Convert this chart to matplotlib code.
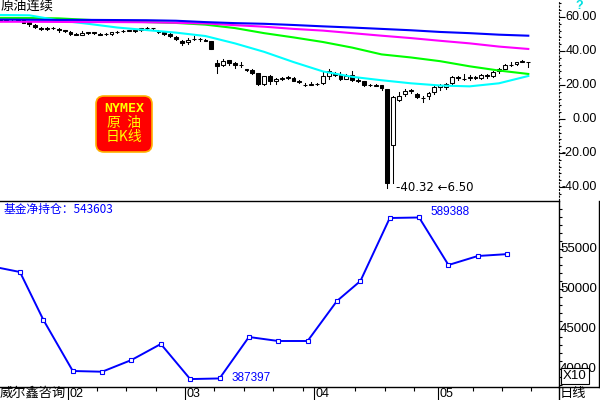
import numpy as np
import matplotlib
matplotlib.use('Agg')
import matplotlib.pyplot as plt
import matplotlib.transforms as mtransforms
from matplotlib.patches import Rectangle, FancyBboxPatch
from matplotlib.lines import Line2D

plt.rcParams['font.family'] = ['Liberation Sans', 'Noto Sans CJK SC', 'DejaVu Sans']
CJK = ['Noto Sans CJK SC', 'DejaVu Sans']

# daily bars, one per trading day (index 0 = 01-15 ... index 90 = 05-22)
opens = [58.24, 57.87, 58.56, 58.67, 58.32, 56.77, 55.52, 53.82, 52.93, 53.64, 53.22, 52.08,
         51.37, 50.11, 49.65, 50.79, 50.89, 50.08, 49.80, 50.00, 50.98, 51.52, 52.05, 52.32,
         52.12, 53.45, 53.70, 51.84, 51.45, 49.93, 48.51, 46.15,
         45.26, 47.20, 47.29, 46.66, 45.61, 32.87, 31.70, 34.54, 33.04, 31.92, 29.25, 29.01,
         27.03, 20.61, 25.33, 22.49, 23.53, 24.06, 24.35, 22.41, 20.15, 20.19,
         20.79, 20.93, 25.03, 26.59, 26.66, 23.81, 25.75, 23.22, 22.21, 19.99, 19.57, 19.83,
         17.73, -15.30, 11.36, 14.50, 16.34, 14.98, 12.48, 13.54, 15.96,
         18.77, 19.05, 21.17, 24.46, 23.55, 24.16, 24.48, 24.13, 25.95, 25.31, 27.98, 29.67,
         31.84, 32.11, 33.63, 33.32]
highs = [58.50, 58.74, 59.09, 59.71, 58.45, 56.86, 55.62, 53.99, 54.11, 54.12, 53.34, 52.49,
         51.73, 50.82, 51.56, 51.43, 51.01, 50.47, 50.76, 51.41, 51.67, 52.20, 52.50, 52.65,
         53.53, 54.09, 53.74, 52.07, 51.92, 50.32, 48.77, 46.26,
         47.43, 48.66, 47.81, 47.28, 45.90, 34.88, 35.03, 34.96, 33.28, 33.33, 29.59, 29.43,
         27.12, 25.37, 26.10, 24.26, 24.68, 25.24, 24.48, 22.91, 21.08, 21.64,
         21.06, 27.39, 29.13, 27.74, 27.71, 26.44, 28.36, 24.74, 22.31, 20.47, 20.42, 20.00,
         17.85, 13.60, 15.70, 17.39, 17.48, 15.16, 13.48, 16.16, 19.29,
         20.48, 21.20, 25.00, 25.06, 26.74, 25.79, 25.52, 26.25, 26.25, 27.95, 29.85, 32.62,
         33.32, 33.38, 34.66, 33.51]
lows = [57.36, 57.56, 58.29, 57.77, 56.46, 54.77, 53.51, 52.13, 52.53, 52.83, 50.99, 51.28,
        49.61, 49.31, 49.46, 50.29, 49.99, 49.31, 49.44, 49.65, 50.39, 51.19, 51.90, 51.21,
        51.96, 52.84, 52.71, 50.66, 49.70, 48.40, 46.50, 43.32,
        44.23, 46.32, 45.97, 45.66, 41.05, 27.34, 31.07, 32.05, 30.02, 30.69, 28.03, 26.39,
        20.06, 20.09, 20.80, 20.52, 22.97, 23.33, 22.20, 21.05, 19.27, 19.73,
        19.90, 20.41, 23.46, 25.28, 23.14, 23.48, 22.06, 21.81, 19.64, 19.20, 19.20, 17.31,
        -40.32, -37.50, 10.50, 13.65, 15.26, 12.06, 10.07, 11.88, 14.82,
        17.31, 17.64, 20.80, 22.65, 22.94, 23.08, 23.45, 23.75, 24.00, 24.78, 27.25, 29.57,
        30.90, 31.48, 33.28, 30.47]
closes = [57.81, 58.52, 58.54, 58.38, 56.74, 55.59, 54.19, 53.14, 53.48, 53.33, 52.14, 51.56,
          50.11, 49.61, 50.75, 50.95, 50.32, 49.57, 49.94, 51.17, 51.42, 52.05, 52.25, 52.05,
          53.29, 53.78, 53.38, 51.43, 49.90, 48.73, 47.09, 44.76,
          46.75, 47.18, 46.78, 45.90, 41.28, 31.13, 34.36, 32.98, 31.50, 31.73, 28.70, 26.95,
          20.37, 25.22, 22.43, 23.36, 24.01, 24.49, 22.60, 21.51, 20.09, 20.48,
          20.31, 25.32, 28.34, 26.08, 23.63, 25.09, 22.76, 22.41, 20.11, 19.87, 19.87, 18.27,
          -37.63, 13.00, 13.78, 16.50, 16.94, 12.78, 12.34, 15.06, 18.84,
          19.78, 20.39, 24.56, 23.99, 23.55, 24.74, 24.14, 25.78, 25.29, 27.56, 29.43, 31.82,
          31.96, 33.49, 33.92, 33.25]

# moving averages, read every 5th bar
ma_idx = [0, 5, 10, 15, 20, 25, 30, 35, 40, 45, 50, 55, 60, 65, 70, 75, 80, 85, 90]
ma_blue = [58.5, 58.4, 58.3, 58.3, 58.2, 58.1, 57.8, 57.0, 56.4, 56.0, 55.3, 54.5, 53.8,
           53.0, 52.2, 51.2, 50.5, 49.6, 49.0]
ma_magenta = [57.2, 57.2, 57.1, 57.0, 57.0, 56.9, 56.6, 56.2, 55.2, 54.3, 53.0, 52.0, 50.5,
              49.0, 47.6, 46.0, 44.5, 42.6, 41.2]
ma_green = [59.5, 59.4, 59.2, 58.3, 57.5, 57.0, 56.5, 55.5, 53.5, 50.5, 48.0, 45.3, 42.0,
            38.0, 36.2, 34.0, 31.0, 28.5, 26.5]
ma_cyan = [61.2, 61.0, 58.0, 56.0, 53.8, 52.3, 50.8, 48.8, 44.5, 39.5, 33.5, 28.0, 24.8,
           22.8, 21.0, 19.7, 19.2, 21.0, 25.3]

price_ticks = [60, 40, 20, 0, -20, -40]
low_bar, low_price, low_note = 66, -40.32, 6.50

# weekly fund net position (bar index of report day)
fund_idx = [-1, 4, 8, 13, 18, 23, 28, 33, 38, 43, 48, 53, 58, 62, 67, 72, 77, 82, 87]
fund_net = [528600, 521250, 461250, 397500, 396600, 411250, 431250, 387397, 388200,
            440000, 435000, 435000, 485000, 510000, 588750, 589388, 530000, 541250, 543603]
net_ticks = [40000, 45000, 50000, 55000]

month_labels = ['02', '03', '04', '05']
month_starts = [12, 32, 54, 75]
week_starts = [17, 22, 27, 37, 42, 47, 52, 61, 66, 71, 81, 86, 91]

W, H = 600, 400
def fx(px):
    return px / W
def fy(py):
    return 1 - py / H

fig = plt.figure(figsize=(6, 4), dpi=100)
fig.patch.set_facecolor('white')
x_right = 559 / 5.87

ax1 = fig.add_axes([0, fy(200), fx(559), 200 / H])
ax2 = fig.add_axes([0, fy(387), fx(559), 186 / H])

# --- price panel ---
for i, (o, h, l, c) in enumerate(zip(opens, highs, lows, closes)):
    ax1.plot([i, i], [l, h], color='black', lw=0.75, zorder=2)
    up = c >= o
    ax1.add_patch(Rectangle((i - 0.33, min(o, c)), 0.66, abs(c - o),
                            facecolor='white' if up else 'black',
                            edgecolor='black', lw=0.75, zorder=3))

ax1.plot(ma_idx, ma_green, color='#00ff00', lw=1.5, zorder=4)
ax1.plot(ma_idx, ma_cyan, color='#00ffff', lw=1.5, zorder=5)
ax1.plot(ma_idx, ma_magenta, color='#ff00ff', lw=1.5, zorder=6)
ax1.plot(ma_idx, ma_blue, color='#0000ff', lw=1.5, zorder=7)

ax1.set_xlim(0, x_right)
ax1.set_ylim(-47.65, 70)
for s in ['left', 'top', 'bottom']:
    ax1.spines[s].set_visible(False)
ax1.spines['right'].set_linestyle((0, (1, 2)))
ax1.spines['right'].set_linewidth(0.8)
ax1.set_xticks([])
ax1.yaxis.tick_right()
ax1.set_yticks(price_ticks)
ax1.set_yticklabels([])
ax1.set_yticks(np.arange(-44, 70, 4), minor=True)
ax1.tick_params(axis='y', which='major', length=4, width=0.8)
ax1.tick_params(axis='y', which='minor', length=1.5, width=0.8)
tr1 = mtransforms.blended_transform_factory(fig.transFigure, ax1.transData)
for t in price_ticks:
    ax1.text(fx(597), t, f'{t:.2f}', transform=tr1, ha='right', va='center',
             fontsize=9, clip_on=False)

ax1.text(fx(1), fy(0), '原油连续', transform=fig.transFigure, ha='left', va='top',
         fontsize=9.5, family=CJK, zorder=10)
fig.text(fx(579), fy(0), '?', ha='center', va='top', fontsize=9, fontweight='bold',
         color='#00e0e0')
ax1.text(low_bar + 1.5, low_price, f'{low_price:.2f} \u2190{low_note:.2f}', ha='left',
         va='center', fontsize=8.5, color='black', family=['DejaVu Sans'], zorder=10)

# badge
bax = fig.add_axes([fx(95), fy(153), fx(58), 58 / H])
bax.set_xlim(0, 58)
bax.set_ylim(0, 58)
bax.axis('off')
bax.add_patch(FancyBboxPatch((1, 1), 56, 56, boxstyle='round,pad=0,rounding_size=8',
                             facecolor='#ff0000', edgecolor='#ffb000', lw=1.2))
bax.text(29, 44, 'NYMEX', ha='center', va='center', fontsize=9.5, fontweight='bold',
         color='#ffff00', family=['DejaVu Sans Mono'])
bax.text(29, 30, '原  油', ha='center', va='center', fontsize=10, color='#ffff00', family=CJK)
bax.text(29, 16, '日K线', ha='center', va='center', fontsize=10, color='#ffff00', family=CJK)

# --- fund position panel ---
ax2.plot(np.array(fund_idx) - 0.6, np.array(fund_net) / 10, color='blue', lw=1.4,
         marker='s', ms=3, mfc='white', mec='blue', mew=0.8)
ax2.set_xlim(0, x_right)
ax2.set_ylim(37750, 61000)
ax2.spines['left'].set_visible(False)
for s in ['top', 'bottom', 'right']:
    ax2.spines[s].set_linewidth(1.0)
ax2.yaxis.tick_right()
ax2.set_yticks(net_ticks)
ax2.set_yticklabels([])
ax2.set_yticks(np.arange(38000, 61000, 1000), minor=True)
ax2.tick_params(axis='y', which='major', length=3, width=0.8)
ax2.tick_params(axis='y', which='minor', length=2, width=0.8)
tr2 = mtransforms.blended_transform_factory(fig.transFigure, ax2.transData)
for t in net_ticks:
    ax2.text(fx(597), t, str(t), transform=tr2, ha='right', va='center',
             fontsize=9.5, clip_on=False)

ax2.set_xticks(np.array(month_starts) - 0.46)
ax2.set_xticklabels([])
ax2.set_xticks(np.array(week_starts) - 0.46, minor=True)
ax2.tick_params(axis='x', which='major', length=9.5, width=0.8)
ax2.tick_params(axis='x', which='minor', length=3, width=0.8)
trx = mtransforms.blended_transform_factory(ax2.transData, fig.transFigure)
for m, lab in zip(month_starts, month_labels):
    ax2.text(m - 0.2, fy(388), lab, transform=trx, ha='left', va='top', fontsize=9,
             clip_on=False)

fig.text(fx(4), fy(203), '基金净持仓：543603', ha='left', va='top', fontsize=8.5,
         color='blue', family=CJK)
fig.text(fx(430), fy(206), '589388', ha='left', va='top', fontsize=8.5, color='blue')
fig.text(fx(232), fy(372), '387397', ha='left', va='top', fontsize=8.5, color='blue')
fig.text(fx(0), fy(387), '威尔鑫咨询', ha='left', va='top', fontsize=9.5, family=CJK)
fig.text(fx(560), fy(387), '日线', ha='left', va='top', fontsize=9.5, family=CJK)
fig.text(fx(563), fy(376), 'X10', ha='left', va='center', fontsize=9.5,
         bbox=dict(boxstyle='square,pad=0.15', facecolor='white', edgecolor='black', lw=0.8))

fig.add_artist(Line2D([fx(599), fx(599)], [fy(201), fy(387)], color='black', lw=1,
                      transform=fig.transFigure))
fig.add_artist(Line2D([fx(559), fx(600)], [fy(387), fy(387)], color='black', lw=1,
                      transform=fig.transFigure))
fig.add_artist(Line2D([fx(559), fx(559)], [fy(387), fy(400)], color='black', lw=1,
                      transform=fig.transFigure))

fig.savefig('out.png', dpi=100)
